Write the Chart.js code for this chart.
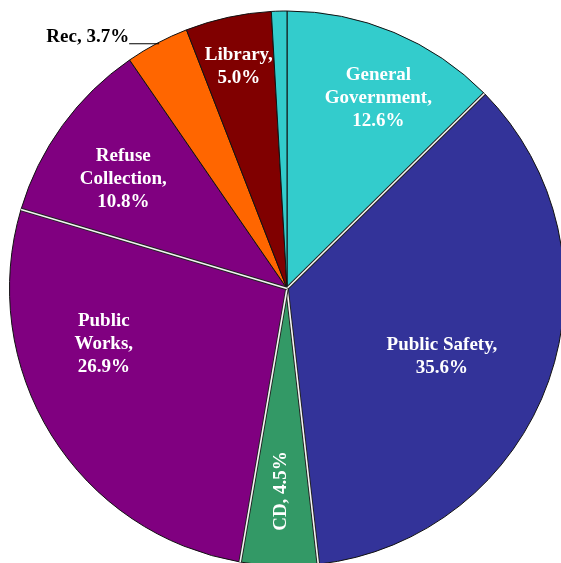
<!DOCTYPE html>
<html>
<head>
<meta charset="utf-8">
<script src="https://cdn.jsdelivr.net/npm/chart.js@4"></script>
<style>
  html, body { margin: 0; padding: 0; background: #fff; overflow: hidden; }
  #wrap { width: 565px; height: 567px; position: relative; }
</style>
</head>
<body>
<div id="wrap"><canvas id="gastos"></canvas></div>
<script>
// Budget shares by department (percent)
const departamentos = ['General Government', 'Public Safety', 'CD', 'Public Works', 'Refuse Collection', 'Rec', 'Library', 'Other'];
const porcentagens = [12.6, 35.6, 4.5, 26.9, 10.8, 3.7, 5.0, 0.9];
const linhasRotulo = [['General', 'Government,'], ['Public Safety,'], ['CD,'], ['Public', 'Works,'], ['Refuse', 'Collection,'], ['Rec,'], ['Library,'], []];

const cores = ['#33CCCC', '#333399', '#339966', '#800080', '#800080', '#FF6600', '#800000', '#33CCCC'];
// slices whose starting edge gets the white double line
const separadorBranco = [false, true, true, true, true, false, false, false];

// where each label sits: angle nudge (deg) from the slice middle and radius fraction
// modo: 'dentro' = white text inside, 'girado' = rotated inside, 'fora' = outside with leader line
const posRotulo = [
  { modo: 'dentro', da: 3, fr: 0.76 },
  { modo: 'dentro', da: 4.3, fr: 0.61 },
  { modo: 'girado', da: 0, fr: 0.73 },
  { modo: 'dentro', da: 15, fr: 0.69 },
  { modo: 'dentro', da: -2.2, fr: 0.71 },
  { modo: 'fora' },
  { modo: 'dentro', da: 0, fr: 0.82 },
  null
];

const fonte = 'bold 19px "Liberation Serif", "Times New Roman", serif';
const alturaLinha = 23;

const rotulosPlugin = {
  id: 'rotulosFatias',
  afterDatasetsDraw(chart) {
    const ctx = chart.ctx;
    const arcos = chart.getDatasetMeta(0).data;
    ctx.save();

    // white separators with dark edges
    arcos.forEach((arco, i) => {
      if (!separadorBranco[i]) return;
      const { x, y, startAngle, outerRadius } = arco.getProps(['x', 'y', 'startAngle', 'outerRadius'], true);
      const fx = x + outerRadius * Math.cos(startAngle);
      const fy = y + outerRadius * Math.sin(startAngle);
      ctx.lineCap = 'butt';
      ctx.beginPath();
      ctx.moveTo(x, y);
      ctx.lineTo(fx, fy);
      ctx.strokeStyle = '#222';
      ctx.lineWidth = 3.5;
      ctx.stroke();
      ctx.strokeStyle = '#f4f4f4';
      ctx.lineWidth = 1.6;
      ctx.stroke();
    });

    ctx.font = fonte;
    arcos.forEach((arco, i) => {
      const pos = posRotulo[i];
      if (!pos) return;
      const { x, y, startAngle, endAngle, outerRadius } = arco.getProps(['x', 'y', 'startAngle', 'endAngle', 'outerRadius'], true);
      const meio = (startAngle + endAngle) / 2;
      const texto = linhasRotulo[i].concat([porcentagens[i].toFixed(1) + '%']);

      if (pos.modo === 'fora') {
        const ex = x + outerRadius * Math.cos(meio);
        const ey = y + outerRadius * Math.sin(meio);
        ctx.strokeStyle = '#000';
        ctx.lineWidth = 1;
        ctx.beginPath();
        ctx.moveTo(ex + 2, ey + 0.5);
        ctx.lineTo(ex - 28, ey + 0.5);
        ctx.stroke();
        ctx.fillStyle = '#000';
        ctx.textAlign = 'right';
        ctx.textBaseline = 'alphabetic';
        ctx.fillText(texto.join(' '), ex - 28, ey - 1);
        return;
      }

      const a = meio + pos.da * Math.PI / 180;
      const px = x + outerRadius * pos.fr * Math.cos(a);
      const py = y + outerRadius * pos.fr * Math.sin(a);
      ctx.fillStyle = '#fff';
      ctx.textAlign = 'center';
      ctx.textBaseline = 'middle';

      if (pos.modo === 'girado') {
        ctx.save();
        ctx.translate(px, py);
        ctx.rotate(-Math.PI / 2);
        ctx.fillText(texto.join(' '), 0, 0);
        ctx.restore();
        return;
      }

      const topo = py - (texto.length - 1) * alturaLinha / 2;
      texto.forEach((linha, k) => ctx.fillText(linha, px, topo + k * alturaLinha));
    });
    ctx.restore();
  }
};

const ctx = document.getElementById('gastos');
if (ctx) {
  new Chart(ctx, {
    type: 'pie',
    data: {
      labels: departamentos,
      datasets: [{
        data: porcentagens,
        backgroundColor: cores,
        borderColor: '#111',
        borderWidth: 1,
        hoverOffset: 0
      }]
    },
    options: {
      responsive: true,
      maintainAspectRatio: false,
      animation: false,
      layout: { padding: { left: 9, top: 10, right: 0, bottom: 0 } },
      plugins: {
        legend: { display: false },
        tooltip: { enabled: false }
      }
    },
    plugins: [rotulosPlugin]
  });
}
</script>
</body>
</html>
